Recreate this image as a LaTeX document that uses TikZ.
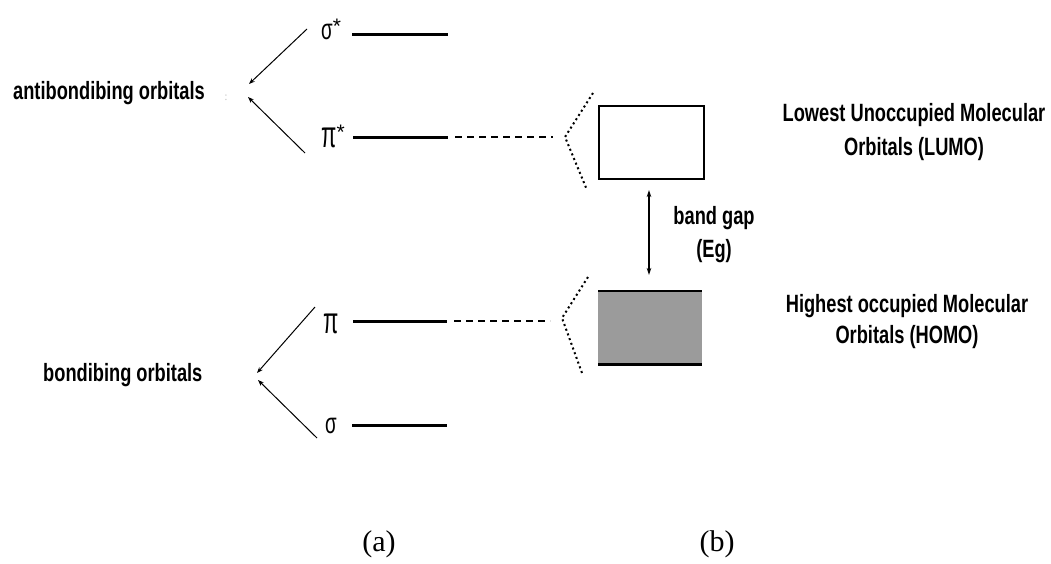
\documentclass[tikz,border=0pt]{standalone}
\usepackage{graphicx}
\usepackage{fontspec}
\setmainfont{Liberation Serif}
\newfontfamily\labfont[FakeStretch=0.73]{Liberation Sans Bold}
\newfontfamily\gkfont{Liberation Sans}
\usetikzlibrary{arrows.meta}
\definecolor{homogray}{RGB}{155,155,155}
\tikzset{
  levelline/.style={line width=3pt},
  vconn/.style={line width=1pt,-{Stealth[length=6pt,width=4.5pt]}},
  dashconn/.style={line width=2.6pt,dash pattern=on 7pt off 5pt},
  dotconn/.style={line width=2pt,dash pattern=on 2pt off 3pt},
  labtext/.style={font=\labfont\fontsize{25}{34}\selectfont,align=center,inner sep=0pt},
  capt/.style={font=\fontsize{30}{30}\selectfont,inner sep=0pt},
  sigmalab/.style={font=\gkfont\fontsize{29}{29}\selectfont,inner sep=0pt,anchor=base west},
  pilab/.style={font=\gkfont\fontsize{37}{37}\selectfont,inner sep=0pt,anchor=base west},
}
\newcommand{\mystar}{\raisebox{0.2em}{\fontsize{21}{21}\selectfont *}}
\begin{document}
\begin{tikzpicture}[x=1pt,y=-1pt]
\useasboundingbox (0,0) rectangle (1051,563);

% ---- (a) energy levels ----
\coordinate (ss1) at (352,34);  \coordinate (ss2) at (448,34);
\coordinate (ps1) at (353,137); \coordinate (ps2) at (448,137);
\coordinate (p1)  at (353,321); \coordinate (p2)  at (447,321);
\coordinate (s1)  at (352,425); \coordinate (s2)  at (447,425);
\draw[levelline] (ss1) -- (ss2);
\draw[levelline] (ps1) -- (ps2);
\draw[levelline] (p1) -- (p2);
\draw[levelline] (s1) -- (s2);

\node[sigmalab] (sslab) at (321,39) {\scalebox{0.65}[1]{σ}\mystar};
\node[pilab]    (pslab) at (321,147) {\scalebox{0.6}[1]{π}\mystar};
\node[pilab]    (plab)  at (323,333) {\scalebox{0.6}[1]{π}};
\node[sigmalab] (slab)  at (325,433) {\scalebox{0.65}[1]{σ}};

% ---- group labels ----
\node[labtext,anchor=west] (anti) at (13,93) {antibondibing orbitals};
\node[labtext,anchor=west] (bond) at (43,375) {bondibing orbitals};
\node[text=gray!45,font=\fontsize{12}{12}\selectfont,inner sep=0pt] (dots) at (226,98) {:};

\coordinate (a1) at (307,29);  \coordinate (a1e) at (249,84);
\coordinate (a2) at (305,153); \coordinate (a2e) at (248,97);
\coordinate (b1) at (315,307); \coordinate (b1e) at (257,373);
\coordinate (b2) at (317,438); \coordinate (b2e) at (258,380);
\draw[vconn] (a1) -- (a1e);
\draw[vconn] (a2) -- (a2e);
\draw[vconn] (b1) -- (b1e);
\draw[vconn] (b2) -- (b2e);

% ---- dashed links ----
\coordinate (d1s) at (455,137); \coordinate (d1e) at (553,137);
\coordinate (d2s) at (454,321); \coordinate (d2e) at (550,321);
\draw[dashconn] (d1s) -- (d1e);
\draw[dashconn] (d2s) -- (d2e);

% ---- dotted fans ----
\coordinate (f1t) at (593,93);  \coordinate (f1a) at (565,137); \coordinate (f1b) at (587,190);
\coordinate (f2t) at (588,277); \coordinate (f2a) at (562,318); \coordinate (f2b) at (582,373);
\draw[dotconn] (f1t) -- (f1a) -- (f1b);
\draw[dotconn] (f2t) -- (f2a) -- (f2b);

% ---- bands ----
\node[draw,line width=1.5pt,fill=white,minimum width=105pt,minimum height=73pt,inner sep=0pt,anchor=north west] (lumo) at (598,105) {};
\node[fill=homogray,minimum width=104pt,minimum height=73pt,inner sep=0pt,anchor=north west] (homo) at (598,291) {};
\draw[line width=2.2pt] (homo.north west) -- (homo.north east);
\draw[line width=2.2pt] (homo.south west) -- (homo.south east);

\coordinate (gt) at (649,190); \coordinate (gb) at (649,275);
\draw[line width=1.3pt,{Stealth[length=7pt,width=4.5pt]}-{Stealth[length=7pt,width=4.5pt]}] (gt) -- (gb);
\node[labtext] (gap) at (714,235) {band gap\\[-1pt](Eg)};

\node[labtext] (lumotxt) at (914,132) {Lowest Unoccupied Molecular\\Orbitals (LUMO)};
\node[labtext] (homotxt) at (907,322) {Highest occupied Molecular\\[-3pt]Orbitals (HOMO)};

% ---- captions ----
\node[capt] (capa) at (379,544) {(a)};
\node[capt] (capb) at (717,544) {(b)};
\end{tikzpicture}
\end{document}
